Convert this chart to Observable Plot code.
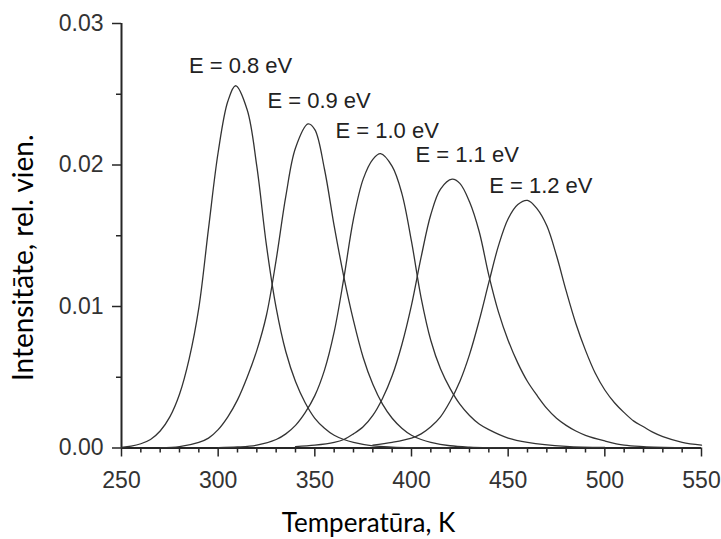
<!DOCTYPE html>
<html>
<head>
<meta charset="utf-8">
<script src="https://cdn.jsdelivr.net/npm/d3@7"></script>
<script src="https://cdn.jsdelivr.net/npm/@observablehq/plot@0.6"></script>
<style>
  html, body { margin: 0; padding: 0; background: #fff; }
</style>
</head>
<body>
<div id="chart"></div>
<script>
// ---- Data ----
const energies = ["0.8", "0.9", "1.0", "1.1", "1.2"];

const temps08 = [250, 255, 260, 265, 270, 275, 280, 285, 290, 295, 300, 305, 309, 315, 320, 325, 330, 335, 340, 345, 350, 355, 360, 365, 370, 380, 390, 400, 420];
const vals08  = [0.00005, 0.00013, 0.0003, 0.0006, 0.0012, 0.0022, 0.0038, 0.0063, 0.0099, 0.0155, 0.0209, 0.0245, 0.0256, 0.0239, 0.0199, 0.0143, 0.0099, 0.0068, 0.0047, 0.0032, 0.0021, 0.0014, 0.0009, 0.0006, 0.0004, 0.00015, 0.00006, 0.00002, 0];

const temps09 = [270, 280, 290, 295, 300, 305, 310, 315, 320, 325, 330, 335, 340, 346.5, 350, 355, 360, 365, 370, 375, 380, 385, 390, 395, 400, 405, 410, 420, 430, 440, 460];
const vals09  = [0.00003, 0.0001, 0.0004, 0.0007, 0.0013, 0.0022, 0.0034, 0.0050, 0.0069, 0.0094, 0.0133, 0.0178, 0.0212, 0.0229, 0.0225, 0.0197, 0.0157, 0.0121, 0.0090, 0.0064, 0.0045, 0.0031, 0.0021, 0.0014, 0.0009, 0.0006, 0.0004, 0.00016, 0.00006, 0.00002, 0];

const temps10 = [300, 310, 320, 330, 335, 340, 345, 350, 355, 360, 365, 370, 375, 380, 384, 390, 395, 400, 405, 410, 415, 420, 425, 430, 435, 440, 450, 460, 480, 500];
const vals10  = [0.00003, 0.00007, 0.0002, 0.0006, 0.0010, 0.0016, 0.0025, 0.0037, 0.0055, 0.0082, 0.0120, 0.0162, 0.0190, 0.0204, 0.0208, 0.0199, 0.0180, 0.0146, 0.0106, 0.0076, 0.0056, 0.0042, 0.0031, 0.0023, 0.0017, 0.0013, 0.0007, 0.0004, 0.00012, 0.00004];

const temps11 = [340, 350, 360, 365, 370, 375, 380, 385, 390, 395, 400, 405, 410, 415, 421, 425, 430, 435, 440, 445, 450, 455, 460, 465, 470, 475, 480, 485, 490, 500, 510, 520, 540];
const vals11  = [0.0001, 0.0002, 0.0004, 0.0006, 0.0010, 0.0015, 0.0023, 0.0035, 0.0051, 0.0073, 0.0101, 0.0135, 0.0165, 0.0183, 0.0190, 0.0187, 0.0174, 0.0153, 0.0122, 0.0096, 0.0076, 0.0060, 0.0047, 0.0037, 0.0028, 0.0021, 0.0016, 0.0012, 0.0009, 0.0005, 0.0002, 0.0001, 0.00003];

const temps12 = [380, 390, 400, 405, 410, 415, 420, 425, 430, 435, 440, 445, 450, 455, 460, 465, 470, 475, 480, 485, 490, 495, 500, 505, 510, 515, 520, 525, 530, 540, 550];
const vals12  = [0.0002, 0.0004, 0.0007, 0.0010, 0.0015, 0.0022, 0.0033, 0.0047, 0.0066, 0.0090, 0.0117, 0.0143, 0.0162, 0.0172, 0.0175, 0.0169, 0.0157, 0.0136, 0.0111, 0.0088, 0.0069, 0.0053, 0.0041, 0.0032, 0.0025, 0.0019, 0.0015, 0.0011, 0.0008, 0.0004, 0.0002];

const labelTexts = ["E = 0.8 eV", "E = 0.9 eV", "E = 1.0 eV", "E = 1.1 eV", "E = 1.2 eV"];
const labelT = [311.6, 352.2, 387.4, 428.8, 466.9];
const labelI = [0.02647, 0.02406, 0.02194, 0.02018, 0.01799];

const xMajorTicks = [250, 300, 350, 400, 450, 500, 550];
const xMinorTicks = [260, 270, 280, 290, 310, 320, 330, 340, 360, 370, 380, 390, 410, 420, 430, 440, 460, 470, 480, 490, 510, 520, 530, 540];
const yMajorTicks = [0, 0.01, 0.02, 0.03];
const yMinorTicks = [0.005, 0.015, 0.025];

const xTitle = "Temperatūra, K";
const yTitle = "Intensitāte, rel. vien.";

// ---- Build tables ----
const seriesT = [temps08, temps09, temps10, temps11, temps12];
const seriesV = [vals08, vals09, vals10, vals11, vals12];
const rows = [];
energies.forEach((e, k) => {
  seriesT[k].forEach((t, i) => rows.push({E: e, T: t, I: seriesV[k][i]}));
});
const labels = labelTexts.map((s, i) => ({s, T: labelT[i], I: labelI[i]}));

const axisColor = "#262626";
const titleFont = "Lato, 'Open Sans', sans-serif";

const chart = Plot.plot({
  width: 721,
  height: 539,
  marginTop: 23,
  marginRight: 20,
  marginBottom: 91.5,
  marginLeft: 121,
  style: {
    fontFamily: "'Liberation Sans', Arial, sans-serif",
    fontSize: "23px",
    color: "#333",
    background: "#fff",
    overflow: "visible"
  },
  x: {domain: [250, 550], label: null},
  y: {domain: [0, 0.03], label: null},
  marks: [
    Plot.axisX({ticks: xMinorTicks, tickSize: 5, tickFormat: () => "", stroke: axisColor, strokeWidth: 1.5, label: null}),
    Plot.axisX({ticks: xMajorTicks, tickSize: 9, tickPadding: 15, tickFormat: d => String(d), stroke: axisColor, strokeWidth: 1.5, label: null}),
    Plot.axisY({ticks: yMinorTicks, tickSize: 5, tickFormat: () => "", stroke: axisColor, strokeWidth: 1.5, label: null}),
    Plot.axisY({ticks: yMajorTicks, tickSize: 9, tickPadding: 9, tickFormat: d => d.toFixed(2), stroke: axisColor, strokeWidth: 1.5, label: null}),
    Plot.ruleY([0], {stroke: axisColor, strokeWidth: 2}),
    Plot.ruleX([250], {stroke: axisColor, strokeWidth: 2}),
    Plot.line(rows, {x: "T", y: "I", z: "E", stroke: "#333", strokeWidth: 1.3, curve: "catmull-rom"}),
    Plot.text(labels, {x: "T", y: "I", text: "s", textAnchor: "middle", lineAnchor: "bottom", fill: "#222", fontSize: 22}),
    Plot.text([xTitle], {text: d => d, frameAnchor: "bottom", textAnchor: "middle", lineAnchor: "bottom", dx: -43, dy: 84, fontSize: 26, fontFamily: titleFont, fill: "#000"}),
    Plot.text([yTitle], {text: d => d, frameAnchor: "left", textAnchor: "middle", lineAnchor: "middle", rotate: -90, dx: -97, dy: 22, fontSize: 28, fontFamily: titleFont, fill: "#000"})
  ]
});
document.getElementById("chart").appendChild(chart);
</script>
</body>
</html>
